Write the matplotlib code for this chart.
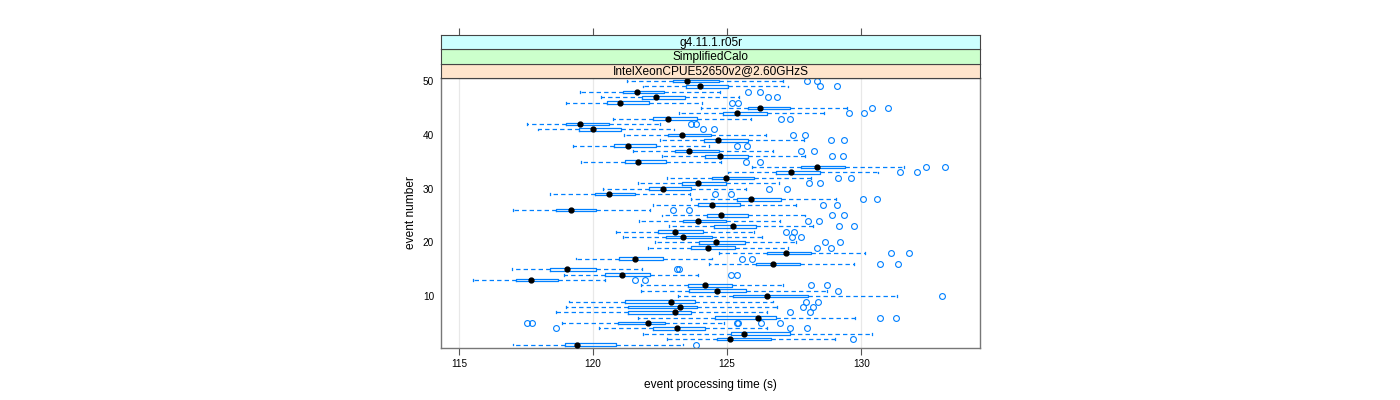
import matplotlib
matplotlib.use("Agg")
import matplotlib.pyplot as plt

plt.rcParams['font.family'] = ['Liberation Sans', 'DejaVu Sans']

# per-event box statistics (seconds), events 1..50
events = list(range(1, 51))
whislo = [117.00, 122.76, 121.85, 120.22, 118.86, 121.67, 118.60, 119.00, 119.10, 123.15,
          121.79, 121.79, 115.53, 118.92, 116.96, 124.31, 119.35, 124.70, 122.04, 122.31,
          121.11, 120.86, 122.82, 121.73, 122.57, 117.00, 122.22, 123.65, 118.41, 120.36,
          121.67, 122.74, 125.05, 125.94, 119.56, 122.57, 121.48, 119.25, 122.50, 121.17,
          117.96, 117.54, 120.76, 123.19, 124.02, 119.00, 120.31, 119.52, 121.85, 121.27]
q1 = [118.96, 124.64, 125.16, 122.22, 120.92, 124.55, 121.31, 121.31, 121.18, 125.21,
      123.56, 123.53, 117.11, 120.43, 118.38, 126.07, 120.96, 126.48, 123.67, 123.96,
      122.72, 122.44, 124.52, 123.34, 124.24, 118.62, 123.90, 125.38, 120.06, 122.07,
      123.30, 124.42, 126.81, 127.76, 121.18, 124.17, 123.06, 120.77, 124.15, 122.78,
      119.47, 118.98, 122.25, 124.86, 125.76, 120.51, 121.81, 121.11, 123.46, 122.97]
med = [119.39, 125.11, 125.63, 123.13, 122.04, 126.16, 123.04, 123.24, 122.91, 126.50,
       124.64, 124.18, 117.68, 121.09, 119.03, 126.72, 121.57, 127.18, 124.29, 124.58,
       123.34, 123.06, 125.22, 123.91, 124.79, 119.16, 124.45, 125.90, 120.61, 122.62,
       123.90, 124.97, 127.38, 128.34, 121.67, 124.73, 123.59, 121.31, 124.65, 123.32,
       120.01, 119.50, 122.81, 125.37, 126.23, 121.01, 122.35, 121.63, 123.99, 123.52]
q3 = [120.84, 126.62, 127.33, 124.17, 122.68, 126.83, 123.67, 123.86, 123.80, 128.02,
      125.72, 125.17, 118.69, 122.13, 120.12, 127.71, 122.60, 128.13, 125.30, 125.66,
      124.42, 124.10, 126.09, 124.95, 125.79, 120.12, 125.47, 127.00, 121.58, 123.67,
      124.95, 126.00, 128.45, 129.41, 122.72, 125.79, 124.68, 122.35, 125.76, 124.39,
      121.05, 120.59, 123.86, 126.48, 127.33, 122.10, 123.43, 122.66, 125.02, 124.70]
whishi = [123.35, 129.04, 130.40, 126.50, 124.89, 129.76, 126.50, 126.85, 126.71, 131.33,
          128.73, 127.09, 120.45, 123.90, 121.83, 129.72, 124.44, 130.16, 127.27, 127.58,
          126.29, 126.00, 128.20, 126.97, 127.90, 122.14, 127.58, 129.06, 123.61, 125.70,
          126.93, 128.11, 130.61, 131.61, 124.77, 127.90, 126.71, 124.33, 127.86, 126.44,
          123.03, 122.51, 125.88, 128.61, 129.47, 124.08, 125.45, 124.73, 127.28, 127.09]
outliers = [[123.83], [129.68], [], [118.63, 127.33, 127.99],
            [117.54, 117.74, 125.36, 125.39, 126.28, 126.96],
            [130.71, 131.29], [127.33, 128.09], [127.83, 128.20], [127.95, 128.40], [133.00],
            [129.13], [128.11, 128.71], [121.58, 121.94], [125.14, 125.35], [123.12, 123.19],
            [130.71, 131.36], [125.57, 125.92], [131.12, 131.77], [128.36, 128.86], [128.64, 129.20],
            [127.41, 127.76], [127.18, 127.49], [129.19, 129.72], [128.02, 128.42], [128.92, 129.35],
            [123.00, 123.59], [128.57, 129.10], [130.06, 130.59], [124.55, 125.14], [126.56, 127.24],
            [128.05, 128.45], [129.14, 129.62], [131.46, 132.08], [132.42, 133.13], [125.70, 126.22],
            [128.92, 129.32], [127.76, 128.24], [125.37, 125.73], [128.86, 129.35], [127.45, 127.89],
            [124.11, 124.52], [123.67, 123.84], [127.00, 127.33], [129.54, 130.12], [130.40, 130.99],
            [125.20, 125.42], [126.54, 126.87], [125.79, 126.22], [128.48, 129.08], [127.99, 128.36]]

strip_labels = ["g4.11.1.r05r", "SimplifiedCalo", "IntelXeonCPUE52650v2@2.60GHzS"]
strip_colors = ["#ccffff", "#ccffcc", "#ffe5cc"]
xticks = [115, 120, 125, 130]
yticks = [10, 20, 30, 40, 50]

blue = "#0080ff"

stats = []
for i in range(len(events)):
    stats.append(dict(whislo=whislo[i], q1=q1[i], med=med[i], q3=q3[i],
                      whishi=whishi[i], fliers=outliers[i]))

W, H = 1400, 400
fig = plt.figure(figsize=(14, 4), dpi=100)
left, right = 441 / W, 980 / W
ax = fig.add_axes([left, 1 - 348 / H, right - left, (348 - 78) / H])

for xt in xticks:
    ax.axvline(xt, color="#e8e8e8", lw=0.9, zorder=0)

ax.bxp(stats, positions=events, orientation="horizontal", widths=0.5,
       manage_ticks=False, capwidths=0.35,
       boxprops=dict(color=blue, lw=0.9),
       whiskerprops=dict(color=blue, lw=0.9, linestyle=(0, (3.5, 2.5))),
       capprops=dict(color=blue, lw=0.9),
       medianprops=dict(visible=False),
       flierprops=dict(marker="o", markerfacecolor="none", markeredgecolor=blue,
                       markersize=4.2, markeredgewidth=0.8))
ax.plot(med, events, "o", color="black", markersize=3.5, zorder=5)

ax.set_xlim(114.33, 134.43)
ax.set_ylim(0.35, 50.58)
ax.set_xticks(xticks)
ax.set_yticks(yticks)
ax.tick_params(axis="x", direction="out", length=5, width=0.8, color="#555555",
               labelsize=7.2, pad=3)
ax.tick_params(axis="y", length=0, labelsize=7.2, pad=5)
for s in ax.spines.values():
    s.set_color("#777777")
    s.set_linewidth(1.0)
ax.set_xlabel("event processing time (s)", fontsize=8.6, labelpad=7)
ax.set_ylabel("event number", fontsize=8.6, labelpad=4)

edges = [78, 63.67, 49.33, 35]
for k in range(3):
    sh = (edges[k] - edges[k + 1]) / H
    sax = fig.add_axes([left, 1 - edges[k] / H, right - left, sh], sharex=ax)
    sax.set_facecolor(strip_colors[2 - k])
    sax.set_yticks([])
    sax.text(0.5, 0.45, strip_labels[2 - k], transform=sax.transAxes,
             ha="center", va="center", fontsize=8.6)
    for s in sax.spines.values():
        s.set_color("#444444")
        s.set_linewidth(0.8)
    if k == 2:
        sax.tick_params(axis="x", top=True, labeltop=False, bottom=False,
                        labelbottom=False, direction="out", length=5,
                        width=0.8, color="#555555")
    else:
        sax.tick_params(axis="x", bottom=False, labelbottom=False)

fig.savefig("out.png", dpi=100)
